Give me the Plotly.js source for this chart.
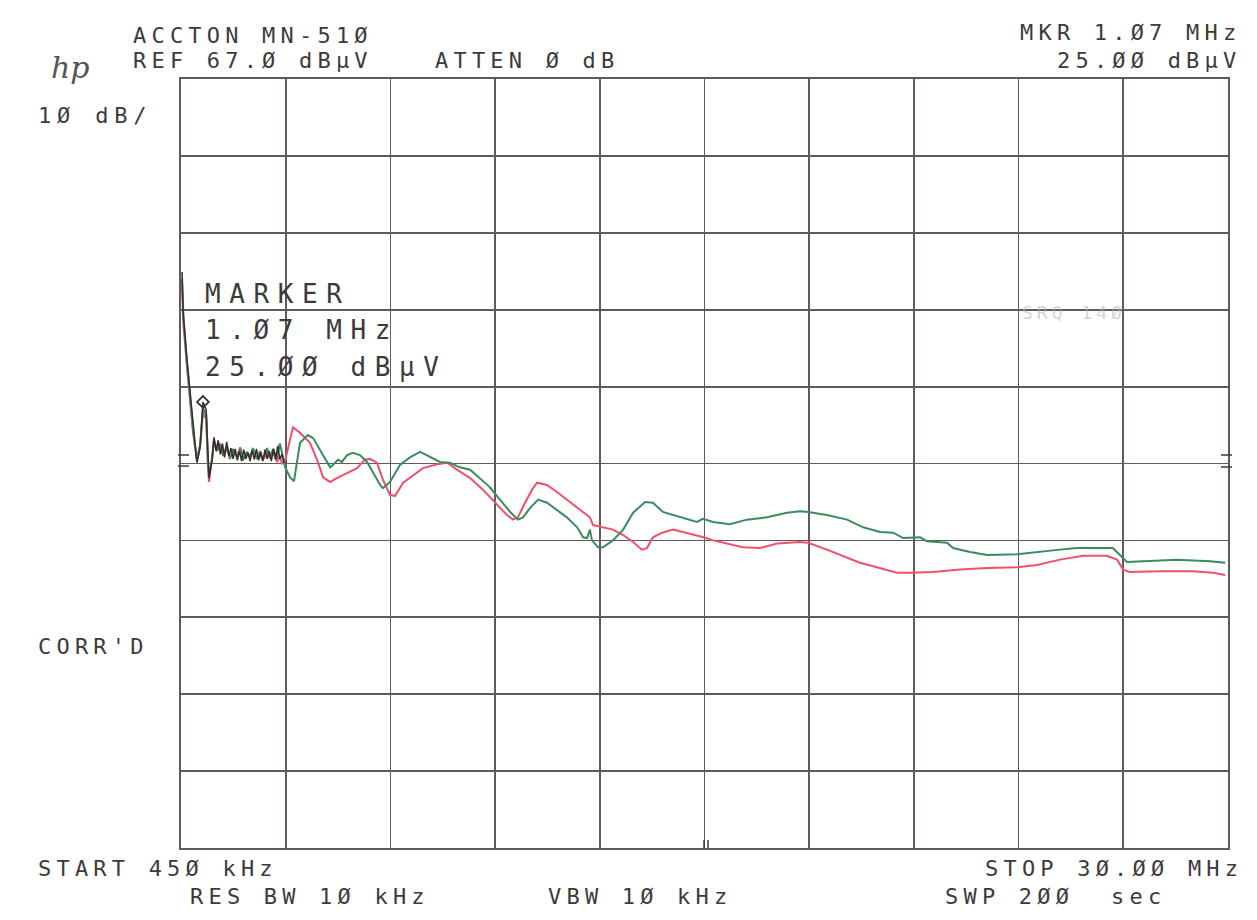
<!DOCTYPE html>
<html>
<head>
<meta charset="utf-8">
<script src="https://cdn.plot.ly/plotly-3.0.1.min.js"></script>
<style>
html,body{margin:0;padding:0;background:#fff;}
#chart{width:1257px;height:920px;}
</style>
</head>
<body>
<div id="chart"></div>
<script>
// ---- Data (frequency in MHz, level in dBµV) ----
const freqBlack = [0.48, 0.51, 0.62, 0.70, 0.79, 0.90, 0.99, 1.07, 1.16, 1.21, 1.24, 1.33,
  1.38, 1.44, 1.50, 1.56, 1.62, 1.68, 1.74, 1.80, 1.86, 1.92, 1.98, 2.04, 2.10, 2.16, 2.22, 2.28, 2.34, 2.40, 2.46, 2.52, 2.58, 2.64, 2.70, 2.76, 2.82, 2.88, 2.94, 3.00, 3.06, 3.12, 3.18, 3.24, 3.30, 3.36];
const levelBlack = [41.9, 36.6, 30.5, 26.6, 21.7, 17.1, 19.1, 25.0, 24.0, 17.5, 15.1, 17.5,
  20.4, 18.6, 20.0, 18.2, 19.6, 17.8, 19.8, 18.0, 19.0, 17.6, 18.9, 17.4, 18.6, 17.3, 18.8, 17.6, 18.4, 17.3, 18.7, 17.5, 18.9, 17.4, 18.5, 17.3, 18.8, 17.6, 18.6, 17.3, 18.9, 17.5, 19.3, 17.6, 18.2, 17.1];

const freqRed = [0.48, 0.52, 0.62, 0.70, 0.79, 0.90, 0.99, 1.07, 1.16, 1.21, 1.24, 1.33, 1.38, 1.47, 1.55, 1.64, 1.75, 1.83, 1.92, 2.03, 2.12, 2.20, 2.31, 2.40, 2.48, 2.60, 2.68, 2.76, 2.88, 2.96, 3.05, 3.16, 3.24, 3.30,
  3.39, 3.61, 3.81, 4.09, 4.29, 4.46, 4.66, 4.85, 5.14, 5.42, 5.64, 5.78, 5.98, 6.15, 6.35, 6.49, 6.72, 7.00, 7.28, 7.68, 7.96, 8.24, 8.61, 8.97, 9.31, 9.65, 9.82, 9.96, 10.16, 10.36, 10.50, 10.78, 11.06, 11.34, 11.63, 11.91, 11.99, 12.08, 12.36, 12.64, 12.93, 13.21, 13.46, 13.60, 13.77, 14.03, 14.34, 14.70, 15.20, 15.47, 16.31, 16.79, 17.27, 17.92, 18.15, 18.68, 19.25, 19.61, 20.09, 20.66, 21.03, 21.67, 22.44, 23.20, 24.05, 24.61, 25.26, 25.91, 26.58, 26.87, 27.04, 27.23, 28.08, 29.01, 29.58, 29.92];
const levelRed = [40.0, 35.0, 29.5, 25.8, 21.0, 17.5, 19.5, 23.6, 22.8, 16.8, 14.6, 17.9, 20.1, 18.6, 19.6, 18.2, 19.3, 17.7, 18.6, 17.9, 19.1, 17.6, 18.4, 17.8, 18.7, 17.7, 18.2, 17.4, 18.5, 17.7, 18.4, 17.2, 17.9, 17.0,
  17.4, 21.7, 21.0, 19.7, 17.5, 15.2, 14.6, 15.1, 15.8, 16.4, 17.5, 17.6, 17.1, 14.9, 12.9, 12.8, 14.5, 15.5, 16.4, 16.9, 17.1, 16.2, 15.1, 13.6, 11.9, 10.3, 9.7, 10.0, 11.9, 13.6, 14.5, 14.2, 13.3, 12.3, 11.2, 10.3, 10.0, 9.0, 8.7, 8.4, 7.7, 6.8, 5.8, 6.0, 7.4, 8.0, 8.4, 8.0, 7.4, 7.0, 6.1, 6.0, 6.6, 6.8, 6.7, 5.8, 4.7, 4.1, 3.5, 2.8, 2.8, 2.9, 3.2, 3.4, 3.5, 3.8, 4.5, 5.0, 5.0, 4.5, 3.2, 2.9, 3.0, 3.0, 2.8, 2.5];

const freqGreen = [0.48, 0.52, 0.62, 0.70, 0.79, 0.90, 0.99, 1.07, 1.16, 1.21, 1.24, 1.33, 1.38, 1.47, 1.55, 1.64, 1.75, 1.83, 1.92, 2.03, 2.12, 2.20, 2.31, 2.40, 2.48, 2.60, 2.68, 2.76, 2.88, 2.96, 3.05, 3.16, 3.24, 3.30,
  3.39, 3.53, 3.64, 3.72, 3.81, 4.03, 4.18, 4.37, 4.57, 4.66, 4.80, 4.88, 4.99, 5.14, 5.30, 5.50, 5.70, 5.87, 6.07, 6.15, 6.35, 6.63, 6.91, 7.20, 7.48, 7.76, 8.04, 8.32, 8.61, 8.89, 9.17, 9.45, 9.74, 9.96, 10.10, 10.30, 10.53, 10.78, 11.06, 11.34, 11.63, 11.80, 11.91, 11.99, 12.05, 12.22, 12.36, 12.64, 12.93, 13.21, 13.55, 13.77, 14.05, 14.53, 15.01, 15.18, 15.47, 15.94, 16.42, 16.99, 17.55, 17.92, 18.15, 18.68, 19.25, 19.70, 20.18, 20.55, 20.83, 21.31, 21.50, 22.07, 22.24, 22.72, 23.20, 24.05, 24.61, 25.26, 25.74, 26.19, 26.75, 26.95, 27.15, 27.60, 28.56, 29.49, 29.92];
const levelGreen = [41.0, 36.0, 30.0, 26.2, 21.3, 17.3, 19.3, 24.2, 23.4, 17.2, 15.4, 17.7, 19.9, 18.8, 19.4, 18.0, 19.0, 17.6, 18.9, 17.8, 18.9, 17.4, 18.5, 17.9, 19.0, 17.6, 18.6, 17.5, 19.0, 17.7, 18.9, 17.6, 19.6, 18.4,
  16.5, 15.2, 14.7, 17.1, 19.7, 20.7, 20.3, 18.8, 17.1, 16.5, 17.1, 17.5, 17.2, 18.1, 18.4, 18.1, 17.2, 15.8, 14.2, 13.8, 14.6, 16.8, 17.8, 18.5, 17.8, 17.2, 17.1, 16.5, 16.2, 15.1, 13.9, 12.3, 10.7, 9.7, 10.0, 11.2, 12.3, 11.9, 11.0, 10.0, 8.7, 7.4, 7.3, 8.4, 7.0, 6.1, 6.1, 7.0, 8.4, 10.6, 12.0, 11.9, 10.7, 10.0, 9.4, 9.8, 9.4, 9.1, 9.7, 10.0, 10.6, 10.8, 10.7, 10.3, 9.7, 8.7, 8.1, 8.0, 7.3, 7.4, 6.9, 6.7, 6.0, 5.5, 5.1, 5.2, 5.5, 5.8, 6.0, 6.0, 6.0, 5.1, 4.2, 4.3, 4.5, 4.3, 4.1];

const markerFreq = [1.07];
const markerLevel = [25.0];

const startFreq = 0.45, stopFreq = 30.0;
const refLevel = 67.0, dbPerDiv = 10, divisions = 10;

// ---- Layout helpers (pixel -> paper) ----
const L = 181, R = 1228, T = 79, B = 848;
const X = px => (px - L) / (R - L);
const Y = py => (B - py) / (B - T);

const ink = '#3e3a3a';
const mono = '"DejaVu Sans Mono", "Liberation Mono", monospace';
function txt(s, px, py, size, sp, opts) {
  return Object.assign({
    text: '<span style="letter-spacing:' + sp + 'px">' + s + '</span>',
    xref: 'paper', yref: 'paper', x: X(px), y: Y(py),
    xanchor: 'left', yanchor: 'middle', showarrow: false,
    font: {family: mono, size: size, color: ink}
  }, opts || {});
}
const NB = '\u00a0';
const annotations = [
  txt('ACCTON' + NB + 'MN-51Ø', 131, 35, 22, 5.2),
  txt('REF' + NB + '67.Ø' + NB + 'dBµV', 131, 60, 22, 5.2),
  txt('ATTEN' + NB + 'Ø' + NB + 'dB', 433, 60, 22, 5.2),
  txt('MKR' + NB + '1.Ø7' + NB + 'MHz', 1018, 33, 22, 5.2),
  txt('25.ØØ' + NB + 'dBµV', 1055, 60, 22, 5.2),
  txt('1Ø' + NB + 'dB/', 36, 116, 22, 5.8),
  txt('CORR\'D', 36, 646, 22, 5.2),
  txt('START' + NB + '45Ø' + NB + 'kHz', 36, 868, 22, 5.2),
  txt('STOP' + NB + '3Ø.ØØ' + NB + 'MHz', 983, 868, 22, 5.2),
  txt('RES' + NB + 'BW' + NB + '1Ø' + NB + 'kHz', 188, 896, 22, 5.2),
  txt('VBW' + NB + '1Ø' + NB + 'kHz', 546, 896, 22, 5.2),
  txt('SWP' + NB + '2ØØ' + NB + NB + 'sec', 943, 896, 22, 5.2),
  txt('MARKER', 203, 294, 26, 8.6),
  txt('1.Ø7' + NB + 'MHz', 203, 330, 26, 8.6),
  txt('25.ØØ' + NB + 'dBµV', 203, 367, 26, 8.6),
  txt('SRQ' + NB + '14Ø', 1020, 312, 18, 4, {font: {family: mono, size: 18, color: 'rgba(170,175,200,0.55)'}}),
  {text: '<i>hp</i>', xref: 'paper', yref: 'paper', x: X(70), y: Y(68), xanchor: 'center', yanchor: 'middle',
   showarrow: false, font: {family: '"DejaVu Serif", serif', size: 30, color: '#555'}}
];

const markShapes = [];
function seg(x0, y0, x1, y1) {
  markShapes.push({type: 'line', xref: 'paper', yref: 'paper', x0: X(x0), y0: Y(y0), x1: X(x1), y1: Y(y1),
    line: {color: ink, width: 1.5}});
}
seg(178, 455, 189, 455); seg(178, 466, 189, 466);
seg(1221, 455, 1232, 455); seg(1221, 467, 1232, 467);
seg(704, 840, 704, 848); seg(708, 840, 708, 848);

const gridColor = '#625a5a';
const traces = [
  {x: freqRed, y: levelRed, mode: 'lines', line: {color: '#f0506a', width: 2}, hoverinfo: 'skip'},
  {x: freqGreen, y: levelGreen, mode: 'lines', line: {color: '#3a8c5c', width: 2}, hoverinfo: 'skip'},
  {x: freqBlack, y: levelBlack, mode: 'lines', line: {color: '#3a2c2e', width: 1.5}, hoverinfo: 'skip'},
  {x: markerFreq, y: markerLevel, mode: 'markers', marker: {symbol: 'diamond-open', size: 9, color: '#3a2c2e', line: {width: 1.8, color: '#3a2c2e'}}, hoverinfo: 'skip'}
];

const layout = {
  width: 1257, height: 920,
  margin: {l: L, r: 1257 - R, t: T, b: 920 - B, pad: 0},
  paper_bgcolor: '#fff', plot_bgcolor: '#fff',
  showlegend: false,
  xaxis: {range: [startFreq, stopFreq], tick0: startFreq, dtick: (stopFreq - startFreq) / divisions,
    showgrid: true, gridcolor: gridColor, gridwidth: 1.8, zeroline: false, showticklabels: false, ticks: '',
    showline: true, mirror: true, linecolor: gridColor, linewidth: 1.8, fixedrange: true},
  yaxis: {range: [refLevel - dbPerDiv * divisions, refLevel], tick0: refLevel, dtick: dbPerDiv,
    showgrid: true, gridcolor: gridColor, gridwidth: 1.8, zeroline: false, showticklabels: false, ticks: '',
    showline: true, mirror: true, linecolor: gridColor, linewidth: 1.8, fixedrange: true},
  annotations: annotations,
  shapes: markShapes
};

Plotly.newPlot('chart', traces, layout, {displayModeBar: false, staticPlot: true});
</script>
</body>
</html>
